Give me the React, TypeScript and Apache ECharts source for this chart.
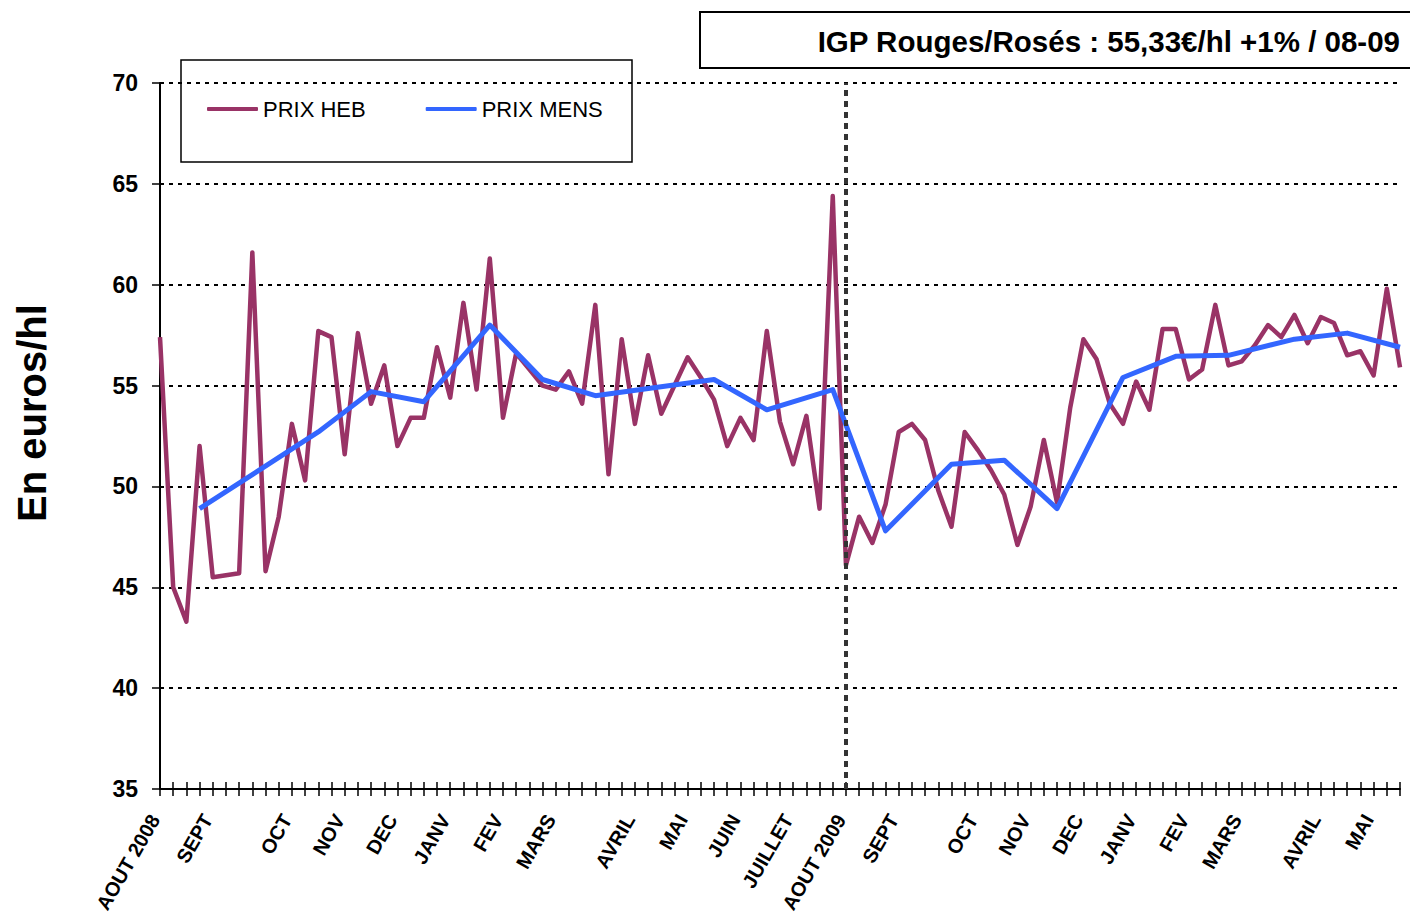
import React, { useEffect, useRef } from "react";
import * as echarts from "echarts";

// Month tick labels: [category index, label]
const monthTickIndex = [0, 4, 10, 14, 18, 22, 26, 30, 36, 40, 44, 48, 52, 56, 62, 66, 70, 74, 78, 82, 88, 92];
const monthTickLabel = [
  "AOUT 2008", "SEPT", "OCT", "NOV", "DEC", "JANV", "FEV", "MARS", "AVRIL", "MAI", "JUIN", "JUILLET",
  "AOUT 2009", "SEPT", "OCT", "NOV", "DEC", "JANV", "FEV", "MARS", "AVRIL", "MAI",
];
const weekCount = 95;

// Weekly price (PRIX HEB), €/hl
const prixHeb = [
  57.4, 45.0, 43.3, 52.0, 45.5, 45.6, 45.7, 61.6, 45.8, 48.5,
  53.1, 50.3, 57.7, 57.4, 51.6, 57.6, 54.1, 56.0, 52.0, 53.4,
  53.4, 56.9, 54.4, 59.1, 54.8, 61.3, 53.4, 56.6, 55.8, 55.0,
  54.8, 55.7, 54.1, 59.0, 50.6, 57.3, 53.1, 56.5, 53.6, 55.0,
  56.4, 55.4, 54.3, 52.0, 53.4, 52.3, 57.7, 53.2, 51.1, 53.5,
  48.9, 64.4, 46.1, 48.5, 47.2, 49.1, 52.7, 53.1, 52.3, 49.8,
  48.0, 52.7, 51.8, 50.8, 49.6, 47.1, 49.0, 52.3, 49.2, 53.9,
  57.3, 56.3, 54.1, 53.1, 55.2, 53.8, 57.8, 57.8, 55.3, 55.8,
  59.0, 56.0, 56.2, 57.0, 58.0, 57.4, 58.5, 57.1, 58.4, 58.1,
  56.5, 56.7, 55.5, 59.8, 55.9,
];

// Monthly price (PRIX MENS): week index and value
const prixMensIndex = [3, 12, 16, 20, 25, 29, 33, 42, 46, 51, 55, 60, 64, 68, 73, 77, 81, 86, 90, 94];
const prixMensValue = [48.9, 52.7, 54.7, 54.2, 58.0, 55.3, 54.5, 55.3, 53.8, 54.8, 47.8, 51.1, 51.3, 48.9, 55.4, 56.45, 56.5, 57.3, 57.6, 56.9];

const yTicks = { min: 35, max: 70, interval: 5 };
const titleText = "IGP Rouges/Rosés : 55,33€/hl +1% / 08-09";
const yAxisTitle = "En euros/hl";
const separatorIndex = 52;

const FONT = 'Arial, "Liberation Sans", sans-serif';

export default function App() {
  const ref = useRef<HTMLDivElement>(null);

  useEffect(() => {
    if (!ref.current) return;
    const chart = echarts.init(ref.current, undefined, { renderer: "svg" });

    const categories: string[] = [];
    for (let i = 0; i < weekCount; i++) categories.push("");
    monthTickIndex.forEach((idx, k) => {
      categories[idx] = monthTickLabel[k];
    });
    const mensData = prixMensIndex.map((idx, k) => [idx, prixMensValue[k]]);

    chart.setOption({
      animation: false,
      backgroundColor: "#ffffff",
      textStyle: { fontFamily: FONT },
      grid: { left: 160, right: 10, top: 83, bottom: 126, containLabel: false },
      legend: {
        left: 207,
        top: 98,
        padding: 0,
        itemWidth: 51,
        itemHeight: 4,
        itemGap: 60,
        icon: "roundRect",
        textStyle: { fontFamily: FONT, fontSize: 22, color: "#000" },
        data: [
          { name: "PRIX HEB", itemStyle: { color: "#993366" } },
          { name: "PRIX MENS", itemStyle: { color: "#3366FF" } },
        ],
      },
      xAxis: [
        {
          type: "category",
          data: categories,
          boundaryGap: false,
          position: "bottom",
          axisLine: { show: true, lineStyle: { color: "#000", width: 2 } },
          axisTick: { show: true, interval: 0, length: 7, lineStyle: { color: "#000", width: 1.5 } },
          axisLabel: {
            interval: 0,
            rotate: 60,
            align: "right",
            verticalAlign: "bottom",
            lineHeight: 12,
            margin: 30,
            fontFamily: FONT,
            fontSize: 20,
            fontWeight: "bold",
            color: "#000",
          },
          splitLine: { show: false },
        },
        {
          type: "category",
          data: categories,
          boundaryGap: false,
          position: "bottom",
          axisLine: { show: false },
          axisTick: { show: true, inside: true, interval: 0, length: 7, lineStyle: { color: "#000", width: 1.5 } },
          axisLabel: { show: false },
          splitLine: { show: false },
        },
      ],
      yAxis: {
        type: "value",
        min: yTicks.min,
        max: yTicks.max,
        interval: yTicks.interval,
        axisLine: { show: true, lineStyle: { color: "#000", width: 2 } },
        axisTick: { show: true, length: 8, lineStyle: { color: "#000", width: 1.5 } },
        axisLabel: {
          margin: 22,
          fontFamily: FONT,
          fontSize: 23,
          fontWeight: "bold",
          color: "#000",
        },
        splitLine: { show: true, lineStyle: { color: "#000", width: 2.2, type: [4, 5] } },
      },
      series: [
        {
          name: "PRIX HEB",
          type: "line",
          xAxisIndex: 0,
          data: prixHeb,
          showSymbol: false,
          symbol: "none",
          lineStyle: { color: "#993366", width: 4.5, join: "round" },
          itemStyle: { color: "#993366" },
          z: 3,
          markLine: {
            silent: true,
            symbol: "none",
            label: { show: false },
            lineStyle: { color: "#333", width: 4, type: [6, 5] },
            data: [{ xAxis: separatorIndex }],
          },
        },
        {
          name: "PRIX MENS",
          type: "line",
          xAxisIndex: 0,
          data: mensData,
          showSymbol: false,
          symbol: "none",
          connectNulls: true,
          lineStyle: { color: "#3366FF", width: 5, join: "round" },
          itemStyle: { color: "#3366FF" },
          z: 4,
        },
      ],
      graphic: [
        {
          type: "rect",
          shape: { x: 181, y: 60, width: 451, height: 102 },
          style: { fill: "#fff", stroke: "#000", lineWidth: 1.5 },
          z: 0,
          silent: true,
        },
        {
          type: "rect",
          shape: { x: 700, y: 12, width: 720, height: 56 },
          style: { fill: "#fff", stroke: "#000", lineWidth: 2 },
          z: 0,
          silent: true,
        },
        {
          type: "text",
          x: 1400,
          y: 41,
          style: {
            text: titleText,
            fontFamily: FONT,
            fontSize: 29.5,
            fontWeight: "bold",
            fill: "#000",
            align: "right",
            verticalAlign: "middle",
          },
          z: 10,
        },
        {
          type: "text",
          x: 32,
          y: 413,
          rotation: Math.PI / 2,
          style: {
            text: yAxisTitle,
            fontFamily: FONT,
            fontSize: 40,
            fontWeight: "bold",
            fill: "#000",
            align: "center",
            verticalAlign: "middle",
          },
          z: 10,
        },
      ],
    });

    return () => chart.dispose();
  }, []);

  return (
    <div
      ref={ref}
      style={{ position: "fixed", left: 0, top: 0, width: 1410, height: 916, background: "#fff" }}
    />
  );
}
